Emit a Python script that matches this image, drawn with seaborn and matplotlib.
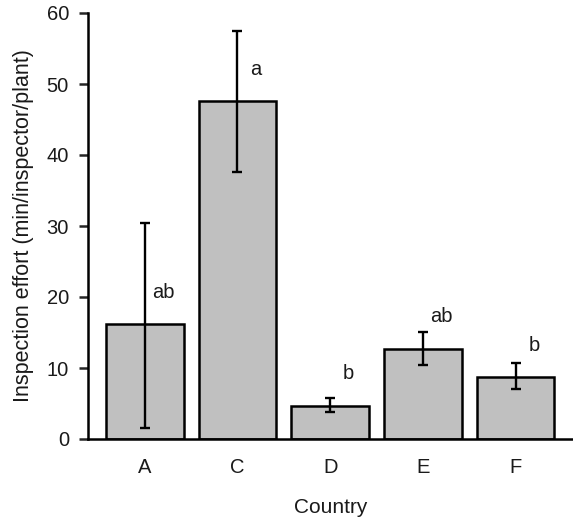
import matplotlib
matplotlib.use("Agg")
import matplotlib.pyplot as plt
import numpy as np
import pandas as pd
import seaborn as sns

countries = ["A", "C", "D", "E", "F"]
effort = [16.2, 47.6, 4.7, 12.7, 8.7]
err_low = [1.5, 37.6, 3.8, 10.4, 7.0]
err_high = [30.4, 57.4, 5.8, 15.1, 10.7]
letters = ["ab", "a", "b", "ab", "b"]

sns.set_theme(style="white")
plt.rcParams["font.family"] = ["Liberation Sans", "DejaVu Sans"]

df = pd.DataFrame({"country": countries, "effort": effort})

fig = plt.figure(figsize=(5.73, 5.24), dpi=100)
ax = fig.add_axes([88 / 573, 85 / 524, 1 - 88 / 573, 426 / 524])

sns.barplot(data=df, x="country", y="effort", ax=ax, color="#c0c0c0",
            saturation=1, width=0.84, edgecolor="black", linewidth=1.8,
            errorbar=None)

x = np.arange(len(countries))
eff = np.array(effort)
yerr = [eff - np.array(err_low), np.array(err_high) - eff]
ax.errorbar(x, eff, yerr=yerr, fmt="none", ecolor="black", elinewidth=1.7,
            capsize=3.5, capthick=1.7)

for xi, yi, lab in zip(x, eff, letters):
    ax.text(xi + 0.2, yi + 4.5, lab, ha="center", va="center", fontsize=14.5,
            color="#1a1a1a")

ax.set_ylim(0, 60)
ax.set_xlim(-0.613, 4.62)
ax.set_yticks(range(0, 61, 10))
ax.tick_params(axis="y", direction="out", length=6.7, width=1.8, labelsize=14.5,
               left=True, pad=7, labelcolor="#1a1a1a")
ax.tick_params(axis="x", length=0, labelsize=14.5, pad=14, labelcolor="#1a1a1a")
for side in ["top", "right"]:
    ax.spines[side].set_visible(False)
for side in ["left", "bottom"]:
    ax.spines[side].set_color("black")
    ax.spines[side].set_linewidth(1.8)

ax.set_xlabel("Country", fontsize=15, labelpad=15, color="#1a1a1a")
ax.set_ylabel("Inspection effort (min/inspector/plant)", fontsize=15.5,
              labelpad=9, color="#1a1a1a")

fig.savefig("out.png", dpi=100)
